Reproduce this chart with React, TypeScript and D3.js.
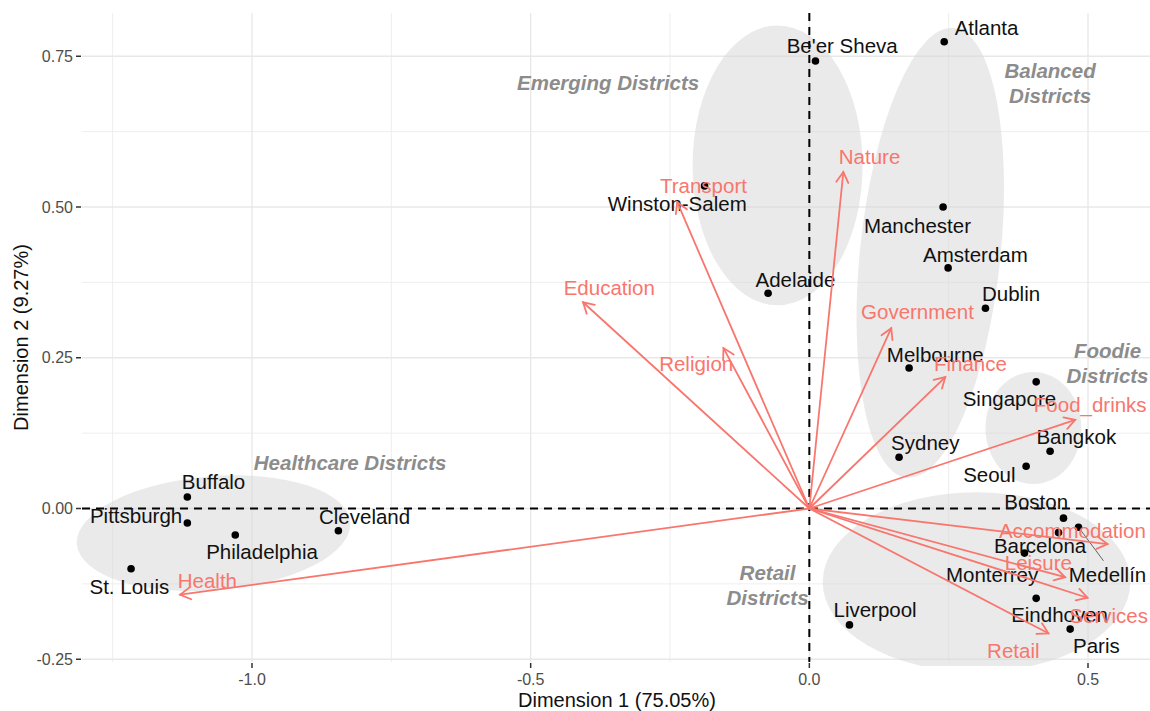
import React from "react";
import * as d3 from "d3";

// ---- Data ----
const cityNames = ["Atlanta","Be'er Sheva","Winston-Salem","Manchester","Amsterdam","Adelaide","Dublin","Melbourne","Singapore","Bangkok","Seoul","Sydney","Boston","Medellín","Barcelona","Monterrey","Eindhoven","Paris","Liverpool","Buffalo","Pittsburgh","Philadelphia","Cleveland","St. Louis"];
const cityDim1 = [0.242,0.011,-0.188,0.240,0.249,-0.074,0.316,0.179,0.407,0.432,0.389,0.161,0.456,0.483,0.447,0.386,0.407,0.468,0.072,-1.116,-1.116,-1.030,-0.845,-1.217];
const cityDim2 = [0.774,0.742,0.535,0.500,0.399,0.357,0.332,0.233,0.210,0.095,0.070,0.085,-0.016,-0.031,-0.040,-0.074,-0.149,-0.200,-0.193,0.019,-0.024,-0.044,-0.037,-0.100];
// repelled label anchors (data units)
const cityLabelDim1 = [0.318,0.059,-0.237,0.194,0.298,-0.025,0.362,0.226,0.359,0.479,0.323,0.208,0.407,0.535,0.414,0.328,0.449,0.515,0.118,-1.069,-1.208,-0.982,-0.798,-1.220];
const cityLabelDim2 = [0.797,0.767,0.505,0.470,0.422,0.380,0.356,0.256,0.183,0.120,0.057,0.109,0.011,-0.110,-0.061,-0.109,-0.175,-0.228,-0.168,0.044,-0.011,-0.072,-0.014,-0.129];
const citySegment = ["Medellín"];

const varNames = ["Health","Education","Transport","Religion","Nature","Government","Finance","Food_drinks","Accommodation","Leisure","Services","Retail"];
const varDim1 = [-1.129,-0.406,-0.237,-0.154,0.061,0.147,0.244,0.477,0.535,0.459,0.499,0.429];
const varDim2 = [-0.143,0.342,0.508,0.266,0.558,0.299,0.218,0.147,-0.059,-0.114,-0.148,-0.207];
const varLabelDim1 = [-1.080,-0.359,-0.190,-0.203,0.108,0.194,0.289,0.504,0.472,0.411,0.537,0.366];
const varLabelDim2 = [-0.119,0.367,0.535,0.240,0.583,0.326,0.240,0.172,-0.037,-0.090,-0.178,-0.235];

const groupNames = ["Healthcare Districts","Emerging Districts","Balanced\nDistricts","Foodie\nDistricts","Retail\nDistricts"];
const groupLabelDim1 = [-0.824,-0.361,0.432,0.535,-0.075];
const groupLabelDim2 = [0.077,0.707,0.706,0.241,-0.127];
const ellipseCx = [-1.069,-0.057,0.217,0.402,0.300];
const ellipseCy = [-0.041,0.569,0.424,0.1335,-0.122];
const ellipseA = [0.246,0.1525,0.126,0.086,0.276];
const ellipseB = [0.0945,0.232,0.375,0.093,0.149];
const ellipseRot = [-4.6,0,6,0,0];

const xTicks = [-1.0,-0.5,0.0,0.5];
const xMinor = [-1.25,-0.75,-0.25,0.25];
const yTicks = [-0.25,0,0.25,0.5,0.75];
const yMinor = [-0.125,0.125,0.375,0.625];

const W = 1150, H = 711;
const panel = { left: 82, right: 1150, top: 13, bottom: 662 };
const FONT = "'Liberation Sans', Arial, Helvetica, sans-serif";
const RED = "#F8766D";
const fmt = (f: string) => (v: number) => d3.format(f)(v).replace("\u2212", "-");

export default function App() {
  const x = d3.scaleLinear().domain([-1, 0.5]).range([252, 1088]);
  const y = d3.scaleLinear().domain([-0.25, 0.75]).range([659.25, 56.25]);
  const x0 = x(0), y0 = y(0);
  const sx = x(1) - x(0), sy = y(0) - y(1);

  const arrowHead = (x1: number, y1: number, x2: number, y2: number) => {
    const ang = Math.atan2(y2 - y1, x2 - x1);
    const L = 12, a = Math.PI / 6;
    const p1 = [x2 - L * Math.cos(ang - a), y2 - L * Math.sin(ang - a)];
    const p2 = [x2 - L * Math.cos(ang + a), y2 - L * Math.sin(ang + a)];
    return `M${p1[0]},${p1[1]}L${x2},${y2}L${p2[0]},${p2[1]}`;
  };

  return (
    <svg width={W} height={H} style={{ position: "absolute", left: 0, top: 0, background: "#fff" }} fontFamily={FONT}>
      <defs>
        <clipPath id="panel">
          <rect x={panel.left} y={panel.top} width={panel.right - panel.left} height={panel.bottom - panel.top} />
        </clipPath>
        <clipPath id="wide">
          <rect x={70} y={panel.top} width={panel.right - 70} height={panel.bottom + 4 - panel.top} />
        </clipPath>
      </defs>
      <rect width={W} height={H} fill="#fff" />
      <g clipPath="url(#panel)">
        {xMinor.map((v) => (
          <line key={"xm" + v} x1={x(v)} x2={x(v)} y1={panel.top} y2={panel.bottom} stroke="#eeeeee" strokeWidth={1} />
        ))}
        {yMinor.map((v) => (
          <line key={"ym" + v} y1={y(v)} y2={y(v)} x1={panel.left} x2={panel.right} stroke="#eeeeee" strokeWidth={1} />
        ))}
        {xTicks.map((v) => (
          <line key={"xg" + v} x1={x(v)} x2={x(v)} y1={panel.top} y2={panel.bottom} stroke="#e8e8e8" strokeWidth={1.3} />
        ))}
        {yTicks.map((v) => (
          <line key={"yg" + v} y1={y(v)} y2={y(v)} x1={panel.left} x2={panel.right} stroke="#e8e8e8" strokeWidth={1.3} />
        ))}
      </g>
      <g clipPath="url(#wide)">
        {groupNames.map((g, i) => {
          const cx = x(ellipseCx[i]), cy = y(ellipseCy[i]);
          return (
            <ellipse key={"el" + i} cx={cx} cy={cy} rx={ellipseA[i] * sx} ry={ellipseB[i] * sy}
              transform={`rotate(${ellipseRot[i]},${cx},${cy})`} fill="#d6d6d6" fillOpacity={0.5} />
          );
        })}
      </g>
      <g clipPath="url(#panel)">
        <line x1={panel.left} x2={panel.right} y1={y0} y2={y0} stroke="#000" strokeWidth={2} strokeDasharray="8,6" />
        <line x1={x0} x2={x0} y1={panel.top} y2={panel.bottom} stroke="#000" strokeWidth={2} strokeDasharray="8,6" />
      </g>
      <g>
        {cityNames.map((c, i) =>
          citySegment.includes(c) ? (
            <line key={"seg" + c} x1={x(cityDim1[i])} y1={y(cityDim2[i])} x2={x(cityLabelDim1[i]) - 4} y2={y(cityLabelDim2[i]) - 14} stroke="#555" strokeWidth={0.9} />
          ) : null
        )}
        {cityNames.map((c, i) => (
          <circle key={"pt" + c} cx={x(cityDim1[i])} cy={y(cityDim2[i])} r={3.8} fill="#000" />
        ))}
        {cityNames.map((c, i) => (
          <text key={"lb" + c} x={x(cityLabelDim1[i])} y={y(cityLabelDim2[i])} textAnchor="middle" dominantBaseline="central" fontSize={20.5} fill="#111">{c}</text>
        ))}
        {varNames.map((v, i) => {
          const x2 = x(varDim1[i]), y2 = y(varDim2[i]);
          return (
            <g key={"ar" + v} stroke={RED} strokeWidth={1.8} fill="none" strokeLinecap="round">
              <line x1={x0} y1={y0} x2={x2} y2={y2} />
              <path d={arrowHead(x0, y0, x2, y2)} />
            </g>
          );
        })}
        {varNames.map((v, i) => (
          <text key={"vl" + v} x={x(varLabelDim1[i])} y={y(varLabelDim2[i])} textAnchor="middle" dominantBaseline="central" fontSize={20.5} fill={RED}>{v}</text>
        ))}
        {groupNames.map((g, i) => {
          const lines = g.split("\n");
          const cx = x(groupLabelDim1[i]), cy = y(groupLabelDim2[i]);
          return (
            <text key={"gl" + i} textAnchor="middle" fontSize={20.5} fontWeight="bold" fontStyle="italic" fill="#8c8c8c">
              {lines.map((l, k) => (
                <tspan key={k} x={cx} y={cy + (k - (lines.length - 1) / 2) * 25} dominantBaseline="central">{l}</tspan>
              ))}
            </text>
          );
        })}
      </g>
      {xTicks.map((v) => (
        <g key={"xt" + v}>
          <line x1={x(v)} x2={x(v)} y1={panel.bottom + 1} y2={panel.bottom + 6} stroke="#333" strokeWidth={1.5} />
          <text x={x(v)} y={679} textAnchor="middle" dominantBaseline="central" fontSize={16} fill="#4d4d4d">{fmt(".1f")(v)}</text>
        </g>
      ))}
      {yTicks.map((v) => (
        <g key={"yt" + v}>
          <line x1={panel.left - 6} x2={panel.left - 1} y1={y(v)} y2={y(v)} stroke="#333" strokeWidth={1.5} />
          <text x={73} y={y(v)} textAnchor="end" dominantBaseline="central" fontSize={16} fill="#4d4d4d">{fmt(".2f")(v)}</text>
        </g>
      ))}
      <text x={617} y={700} textAnchor="middle" dominantBaseline="central" fontSize={20} fill="#111">Dimension 1 (75.05%)</text>
      <text transform={`translate(21,${(panel.top + panel.bottom) / 2}) rotate(-90)`} textAnchor="middle" dominantBaseline="central" fontSize={20} fill="#111">Dimension 2 (9.27%)</text>
    </svg>
  );
}
